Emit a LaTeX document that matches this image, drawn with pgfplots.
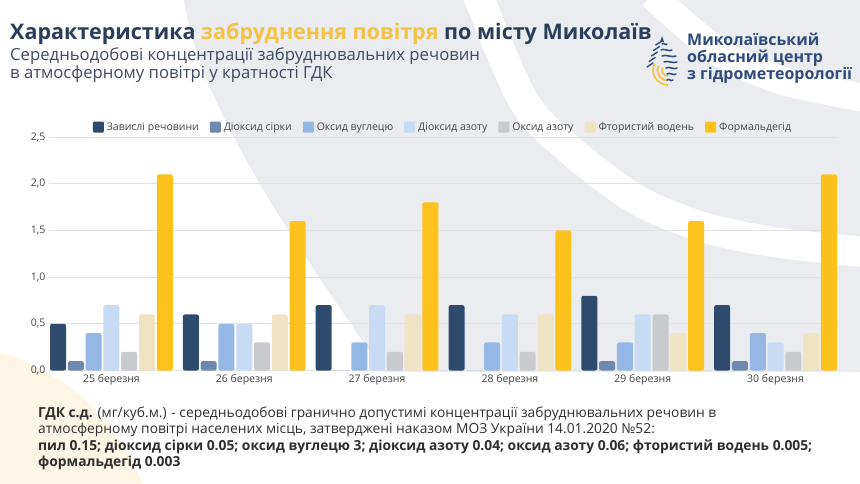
\documentclass[border=0pt]{standalone}
\usepackage{fontspec}
\setmainfont{Open Sans}
\usepackage{pgfplots}
\pgfplotsset{compat=1.18}
\definecolor{cNavy}{HTML}{2E4A6C}
\definecolor{cSlate}{HTML}{6E89B1}
\definecolor{cBlue}{HTML}{94B7E6}
\definecolor{cPale}{HTML}{C8DBF4}
\definecolor{cGray}{HTML}{C9CACD}
\definecolor{cBeige}{HTML}{EEE3C2}
\definecolor{cYellow}{HTML}{FCC21B}
\definecolor{titleNavy}{HTML}{2B3D5C}
\definecolor{titleYellow}{HTML}{F6C244}
\definecolor{subCol}{HTML}{3F4A60}
\definecolor{logoBlue}{HTML}{2D4B7D}
\definecolor{bgGray}{HTML}{EBECF0}
\definecolor{bgYellow}{HTML}{FEF6E4}
\definecolor{gridCol}{HTML}{E1E2E6}
\definecolor{tickCol}{HTML}{454545}
\definecolor{footCol}{HTML}{2F2F2F}
\newcommand\footfont{\fontsize{13.8}{16}\selectfont}
\begin{document}
\begin{tikzpicture}
\path[use as bounding box, fill=white] (0,0) rectangle (860pt,483pt);
\begin{scope}[x=1pt,y=-1pt,shift={(0pt,483pt)}]
  \clip (0,0) rectangle (860,483);
  \fill[bgYellow] (-60,560) circle (216);
  \fill[bgGray] (184,0) -- (860,0) -- (860,372) -- (384,372) .. controls (300,250) and (200,110) .. (184,0) -- cycle;
  \draw[white, line width=30pt] plot[smooth] coordinates {(478,-5) (523,100) (570,150) (637,200) (706,228) (780,243) (865,252)};
  \draw[white, line width=28pt] plot[smooth] coordinates {(652,-5) (716,50) (780,80) (865,98)};
\end{scope}
\begin{scope}[x=1pt,y=-1pt,shift={(0pt,483pt)}]
  % title
  \node[anchor=base west, inner sep=0pt, font=\fontsize{21.5}{25}\selectfont\bfseries, text=titleNavy] at (10,40)
    {Характеристика \textcolor{titleYellow}{забруднення повітря} по місту Миколаїв};
  \node[anchor=base west, inner sep=0pt, font=\fontsize{16.7}{20}\selectfont, text=subCol] at (10,61)
    {Середньодобові концентрації забруднювальних речовин};
  \node[anchor=base west, inner sep=0pt, font=\fontsize{16.7}{20}\selectfont, text=subCol] at (10,79)
    {в атмосферному повітрі у кратності ГДК};
  % logo text
  \node[anchor=base west, inner sep=0pt, font=\fontsize{16}{18}\selectfont\bfseries, text=logoBlue] at (687,46) {Миколаївський};
  \node[anchor=base west, inner sep=0pt, font=\fontsize{16}{18}\selectfont\bfseries, text=logoBlue] at (687,63) {обласний центр};
  \node[anchor=base west, inner sep=0pt, font=\fontsize{16}{18}\selectfont\bfseries, text=logoBlue] at (687,80) {з гідрометеорології};
  % logo drop
  \foreach \r in {6,10.5,15} \draw[titleYellow, line width=1.7pt] (668,70) ++(90:\r) arc[start angle=90, end angle=205, radius=\r];
  \foreach \y/\a/\b in {44/662/667, 50/661/672, 56/662/676, 62/664/677, 68/666/677, 74/667/676, 80/667/673}
    \draw[logoBlue, line width=1.5pt, line cap=round] (\a,\y) .. controls (\a+3,\y-2) and (\b-3,\y+2) .. (\b,\y);
  \foreach \i in {0,...,4} \draw[logoBlue, line width=1.4pt, line cap=round] (647+\i*2.2,67-\i*5.5) -- (653+\i*2.2,63-\i*5.5);
  \fill[logoBlue] (662,36) -- (664,42) -- (660,42) -- cycle;
  % footnote
  \node[anchor=base west, inner sep=0pt, text=footCol] at (38,417) {\footfont\textbf{ГДК с.д.} (мг/куб.м.) - середньодобові гранично допустимі концентрації забруднювальних речовин в};
  \node[anchor=base west, inner sep=0pt, text=footCol] at (38,433) {\footfont атмосферному повітрі населених місць, затверджені наказом МОЗ України 14.01.2020 №52:};
  \node[anchor=base west, inner sep=0pt, text=footCol] at (38,450) {\footfont\bfseries пил 0.15; діоксид сірки 0.05; оксид вуглецю 3; діоксид азоту 0.04; оксид азоту 0.06; фтористий водень 0.005;};
  \node[anchor=base west, inner sep=0pt, text=footCol] at (38,466.5) {\footfont\bfseries формальдегід 0.003};
\end{scope}
\begin{axis}[
  at={(49pt,112.5pt)}, anchor=south west,
  scale only axis, width=789pt, height=233.5pt,
  xmin=-0.47, xmax=5.47, ymin=0, ymax=2.5,
  ybar=1.8pt, bar width=16pt,
  axis line style={draw=none},
  major tick length=0pt,
  xtick={0,1,2,3,4,5},
  xticklabels={25 березня,26 березня,27 березня,28 березня,29 березня,30 березня},
  ytick={0,0.5,1,1.5,2,2.5},
  ymajorgrids, grid style={color=gridCol, line width=0.8pt},
  /pgf/number format/assume math mode=true,
  yticklabel style={/pgf/number format/.cd, use comma, fixed, fixed zerofill, precision=1},
  ticklabel style={font=\fontsize{10.5}{12}\selectfont, text=tickCol},
  every axis plot/.append style={draw=none, rounded corners=2pt},
  legend columns=-1,
  legend style={at={(0.5,1)}, anchor=south, xshift=-4pt, yshift=4pt, draw=none, fill=none,
    font=\fontsize{10.5}{12}\selectfont, text=tickCol, inner sep=0pt,
    nodes={inner xsep=3pt, inner ysep=1pt}},
  legend image code/.code={\path (0pt,0pt); \fill[rounded corners=1pt] (8pt,-5.5pt) rectangle (19pt,5.5pt);},
]
\addplot[fill=cNavy] coordinates {(0,0.5) (1,0.6) (2,0.7) (3,0.7) (4,0.8) (5,0.7)};
\addplot[fill=cSlate] coordinates {(0,0.1) (1,0.1) (2,0) (3,0) (4,0.1) (5,0.1)};
\addplot[fill=cBlue] coordinates {(0,0.4) (1,0.5) (2,0.3) (3,0.3) (4,0.3) (5,0.4)};
\addplot[fill=cPale] coordinates {(0,0.7) (1,0.5) (2,0.7) (3,0.6) (4,0.6) (5,0.3)};
\addplot[fill=cGray] coordinates {(0,0.2) (1,0.3) (2,0.2) (3,0.2) (4,0.6) (5,0.2)};
\addplot[fill=cBeige] coordinates {(0,0.6) (1,0.6) (2,0.6) (3,0.6) (4,0.4) (5,0.4)};
\addplot[fill=cYellow] coordinates {(0,2.1) (1,1.6) (2,1.8) (3,1.5) (4,1.6) (5,2.1)};
\legend{Завислі речовини,Діоксид сірки,Оксид вуглецю,Діоксид азоту,Оксид азоту,Фтористий водень,Формальдегід}
\end{axis}
\end{tikzpicture}
\end{document}
